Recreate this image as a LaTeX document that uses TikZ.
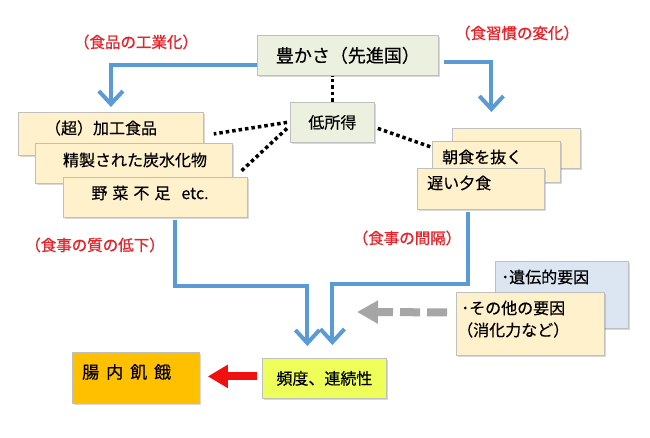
\documentclass[tikz,border=0pt]{standalone}
\usepackage{fontspec}
\setmainfont{Noto Sans CJK JP}[FakeBold=0.4]
\newfontfamily\redfont{Noto Sans CJK JP}[FakeBold=1.0]
\usetikzlibrary{arrows.meta,shadows,calc}
\definecolor{cgreen}{HTML}{EBF1DE}
\definecolor{ctan}{HTML}{FFF1CC}
\definecolor{cyellow}{HTML}{EEFF5A}
\definecolor{corange}{HTML}{FFC000}
\definecolor{clblue}{HTML}{DCE6F2}
\definecolor{cblue}{HTML}{5B9BD5}
\definecolor{cgray}{HTML}{A6A6A6}
\definecolor{cborder}{HTML}{BFBFBF}
\definecolor{cred}{HTML}{E5242B}
\definecolor{carrowred}{HTML}{F01010}
\begin{document}
\begin{tikzpicture}[x=1pt,y=-1pt,
  box/.style={draw=cborder, line width=0.8pt, inner sep=0pt, anchor=north west,
    drop shadow={shadow xshift=1.2pt, shadow yshift=-1.2pt, fill=black, opacity=0.15},
    font=\fontsize{16}{19}\selectfont},
  txt/.style={inner sep=0pt, font=\fontsize{16}{19}\selectfont},
  redlbl/.style={inner sep=0pt, text=cred, font=\redfont\fontsize{15.5}{18}\selectfont},
  bluearrow/.style={draw=cblue, line width=4pt, line join=miter,
    -{Straight Barb[length=13pt,width=24pt,line width=4pt]}},
  dotline/.style={draw=black, line width=3.5pt, dash pattern=on 3.5pt off 3pt},
  redarrow/.style={draw=carrowred, line width=8pt, -{Triangle[length=20pt,width=22pt]}},
  grayarrow/.style={draw=cgray, line width=8pt, dash pattern=on 20pt off 7pt,
    -{Triangle[length=21pt,width=22pt]}}]
\useasboundingbox[fill=white] (0,0) rectangle (650,438);

% top
\node[box, fill=cgreen, minimum width=181pt, minimum height=40pt, font=\fontsize{18}{21}\selectfont] (yutaka) at (257,35) {豊かさ（先進国）};
\node[box, fill=cgreen, minimum width=84pt, minimum height=40pt] (lowinc) at (290,102) {低所得};

% left stack
\node[box, fill=ctan, minimum width=185pt, minimum height=43pt] (b1) at (18,112) {};
\node[box, fill=ctan, minimum width=197pt, minimum height=40pt] (b2) at (35,143) {};
\node[box, fill=ctan, minimum width=184pt, minimum height=40pt] (b3) at (63,177) {};
\node[txt] (t1) at (101,128) {（超）加工食品};
\node[txt] (t2) at (135,160) {精製された炭水化物};
\node[txt] (t3) at (150,193) {野\hspace{5pt}菜\hspace{5pt}不\hspace{5pt}足\hspace{11pt}etc.};

% right stack
\node[box, fill=ctan, minimum width=128pt, minimum height=40pt] (bk) at (452,128) {};
\node[box, fill=ctan, minimum width=128pt, minimum height=41pt] (asa) at (432,141) {};
\node[box, fill=ctan, minimum width=127pt, minimum height=41pt] (oso) at (417,168) {};
\node[txt, anchor=west] (t4) at (442,157) {朝食を抜く};
\node[txt, anchor=west] (t5) at (427,183) {遅い夕食};

% bottom
\node[box, fill=cyellow, minimum width=124pt, minimum height=40pt] (hindo) at (262,358) {頻度、連続性};
\node[box, fill=corange, minimum width=127pt, minimum height=51pt] (chou) at (72,352) {};
\node[txt, anchor=west, font=\fontsize{17}{20}\selectfont] (t6) at (82,372) {腸\hspace{7pt}内\hspace{7pt}飢\hspace{7pt}餓};

\node[box, fill=clblue, minimum width=133pt, minimum height=67pt] (iden) at (495,261) {};
\node[box, fill=ctan, minimum width=148pt, minimum height=63pt] (sono) at (456,292) {};
\node[txt, anchor=west] (t7) at (501,277) {･遺伝的要因};
\node[txt, anchor=west] (t8) at (461,308) {･その他の要因};
\node[txt, anchor=west] (t9) at (457,330) {（消化力など）};

% red labels
\node[redlbl] (l1) at (136,42) {（食品の工業化）};
\node[redlbl] (l2) at (517,33) {（食習慣の変化）};
\node[redlbl] (l3) at (95,245) {（食事の質の低下）};
\node[redlbl] (l4) at (407,238) {（食事の間隔）};

% dotted connectors
\draw[dotline] (lowinc.north) -- (lowinc.north |- yutaka.south);
\draw[dotline] ([xshift=-3pt]lowinc.west) -- ([xshift=10pt]b1.east);
\draw[dotline] ([xshift=-3pt,yshift=-6pt]lowinc.west) -- ([xshift=7pt,yshift=-9pt]b2.east);
\draw[dotline] ([xshift=3pt,yshift=-6pt]lowinc.east) -- ([yshift=14.5pt]asa.west);

% blue arrows
\draw[bluearrow] ([yshift=-10pt]yutaka.west) -| ([yshift=5pt]b1.north);
\draw[bluearrow] ([xshift=5pt,yshift=-7pt]yutaka.east) -| ([xshift=-5pt,yshift=29pt]asa.north);
\draw[bluearrow] ([xshift=20pt,yshift=-2pt]b3.south) -- ++(0,66) -| ([xshift=-17pt,yshift=12pt]hindo.north);
\draw[bluearrow] ([xshift=-12.5pt,yshift=-2pt]oso.south) -- ++(0,72) -| ([xshift=8pt,yshift=13pt]hindo.north);

% red arrow
\draw[redarrow] ([xshift=-5pt,yshift=2pt]hindo.west) -- ([xshift=8pt,yshift=1.5pt]chou.east);

% gray dashed arrow
\coordinate (gtip) at (357,312);
\draw[grayarrow] ([xshift=-9pt,yshift=11.5pt]sono.west) -- (gtip);
\end{tikzpicture}
\end{document}
